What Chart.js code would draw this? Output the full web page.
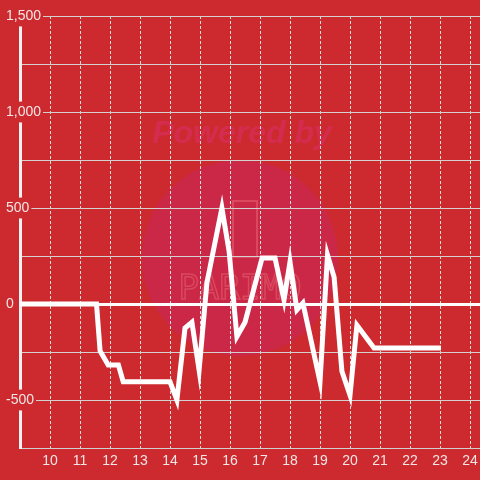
<!DOCTYPE html>
<html>
<head>
<meta charset="utf-8">
<script src="https://cdn.jsdelivr.net/npm/chart.js@4/dist/chart.umd.min.js"></script>
<style>
  html, body { margin: 0; padding: 0; background: #cc2a2f; }
  #wrap { width: 480px; height: 480px; }
</style>
</head>
<body>
<div id="wrap"><canvas id="c" width="480" height="480"></canvas></div>
<script>
// ---- data ----
const hours  = [9, 11.55, 11.67, 11.94, 12.28, 12.44, 14.0, 14.23, 14.5, 14.73, 14.97, 15.23, 15.73, 15.97, 16.23, 16.5, 17.07, 17.5, 17.8, 18.0, 18.23, 18.43, 19.0, 19.25, 19.47, 19.73, 20.0, 20.23, 20.6, 20.8, 23.03];
const values = [0, 0, -245, -318, -318, -405, -405, -500, -125, -95, -345, 110, 500, 275, -170, -95, 240, 240, 22, 220, -30, 5, -405, 255, 140, -350, -475, -110, -188, -229, -229];
const xTickValues = [10, 11, 12, 13, 14, 15, 16, 17, 18, 19, 20, 21, 22, 23, 24];
const yTickValues = [-750, -500, -250, 0, 250, 500, 750, 1000, 1250, 1500];
const xMin = 9, xMax = 24.333;
const yMin = -750, yMax = 1500;

const BG = '#cc2a2f';
const points = hours.map((h, i) => ({ x: h, y: values[i] }));

const watermark = {
  id: 'watermark',
  beforeDraw(chart) {
    const ctx = chart.ctx;
    ctx.save();
    ctx.fillStyle = BG;
    ctx.fillRect(0, 0, chart.width, chart.height);
    // faint circle
    ctx.beginPath();
    ctx.arc(240, 258, 98, 0, Math.PI * 2);
    ctx.fillStyle = '#cb2848';
    ctx.fill();
    // "Powered by"
    ctx.font = 'italic bold 32px "Liberation Sans", Arial, sans-serif';
    ctx.fillStyle = 'rgba(215,45,90,0.75)';
    ctx.textAlign = 'center';
    ctx.textBaseline = 'middle';
    ctx.fillText('Powered by', 242, 134);
    // logo outline
    ctx.strokeStyle = 'rgba(235,110,120,0.45)';
    ctx.lineWidth = 2;
    ctx.strokeRect(233, 201, 24, 56);
    ctx.font = '34px "DejaVu Sans Mono", monospace';
    ctx.lineWidth = 1.5;
    ctx.strokeText('PARIMO', 240, 290);
    ctx.restore();
  }
};

new Chart(document.getElementById('c'), {
  type: 'line',
  data: {
    datasets: [{
      data: points,
      borderColor: '#ffffff',
      borderWidth: 5,
      borderJoinStyle: 'miter',
      pointRadius: 0,
      fill: false,
      tension: 0
    }]
  },
  options: {
    responsive: false,
    animation: false,
    layout: { padding: { top: 16, left: 6, right: 0, bottom: 0 } },
    plugins: { legend: { display: false }, tooltip: { enabled: false } },
    scales: {
      x: {
        type: 'linear',
        min: xMin, max: xMax,
        afterBuildTicks(scale) { scale.ticks = xTickValues.map(v => ({ value: v })); },
        afterFit(scale) { scale.height = 32; scale.paddingLeft = 0; scale.paddingRight = 0; },
        grid: { color: '#e2dede', lineWidth: 1, drawTicks: false },
        border: { display: true, color: '#cfcfcf', width: 1, dash: [3, 2] },
        ticks: {
          color: '#f3e6e6', padding: 5, maxRotation: 0, autoSkip: false,
          font: { family: '"Liberation Sans", Arial, sans-serif', size: 14 }
        }
      },
      y: {
        type: 'linear',
        min: yMin, max: yMax,
        afterBuildTicks(scale) { scale.ticks = yTickValues.map(v => ({ value: v })); },
        afterFit(scale) { scale.width = 14; scale.paddingTop = 0; scale.paddingBottom = 0; },
        grid: {
          drawTicks: false,
          color: (c) => (c.tick && c.tick.value === 0) ? '#ffffff' : '#d4d0d0',
          lineWidth: (c) => (c.tick && c.tick.value === 0) ? 3 : 1
        },
        border: { display: true, color: '#f2f2f2', width: 3 },
        ticks: {
          color: '#f3e6e6',
          mirror: true,
          crossAlign: 'near',
          padding: -14,
          showLabelBackdrop: (c) => c.tick && c.tick.value % 500 === 0 && c.tick.value !== -750 ? true : false,
          backdropColor: BG,
          backdropPadding: 2,
          font: { family: '"Liberation Sans", Arial, sans-serif', size: 14 },
          callback: (v) => (v % 500 === 0 && v !== -750) ? v.toLocaleString('en-US') : ''
        }
      }
    }
  },
  plugins: [watermark]
});
</script>
</body>
</html>
